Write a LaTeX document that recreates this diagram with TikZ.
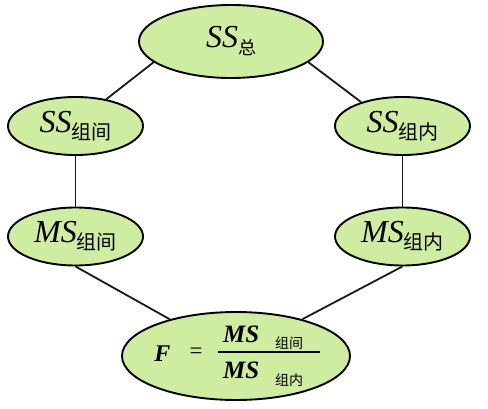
\documentclass[tikz,border=0pt]{standalone}
\usepackage{fontspec}
\setmainfont{Liberation Serif}
\newfontfamily\cjkf{Noto Sans CJK SC}
\usetikzlibrary{shapes.geometric}
\definecolor{nodegreen}{RGB}{206,237,160}
\newcommand{\bigit}[1]{{\fontsize{32}{32}\selectfont\itshape #1}}
\newcommand{\sidesub}[1]{\raisebox{-7pt}{\cjkf\fontsize{20}{20}\selectfont #1}}
\newcommand{\fbig}{\fontsize{25}{25}\selectfont\bfseries\itshape}
\newcommand{\fsubf}{\cjkf\fontsize{14}{14}\selectfont}
\begin{document}
\begin{tikzpicture}[x=1pt,y=-1pt,
  oval/.style={ellipse,draw=black,line width=1.9pt,fill=nodegreen,inner sep=0pt},
  side/.style={oval,minimum width=135pt,minimum height=58pt},
  conn/.style={line width=1.8pt,draw=black!90},
  ftext/.style={inner sep=0pt}]
\fill[white] (0,0) rectangle (488,409);
\useasboundingbox (0,0) rectangle (488,409);
\node[oval,minimum width=184pt,minimum height=73pt] (tot) at (231,41.5)
  {\bigit{SS}\raisebox{-7pt}{\cjkf\fontsize{18}{18}\selectfont 总}};
\node[side] (ssb) at (75.5,126) {\bigit{SS}\sidesub{组间}};
\node[side] (ssw) at (402.5,126) {\bigit{SS}\sidesub{组内}};
\node[side] (msb) at (75.5,236.5) {\bigit{MS}\sidesub{组间}};
\node[side] (msw) at (402.5,236.5) {\bigit{MS}\sidesub{组内}};
\node[oval,minimum width=228pt,minimum height=88pt] (fo) at (236,356) {};
% formula
\node[ftext,anchor=base,font=\fontsize{24}{24}\selectfont\bfseries\itshape] (fF) at (162.5,361) {F};
\node[ftext,anchor=base,font=\fontsize{23}{23}\selectfont] (feq) at (196,359) {=};
\node[ftext,anchor=base west,font=\fbig] (fnum) at (223,342) {MS};
\node[ftext,anchor=base west,font=\fsubf] (fnums) at (275,348.5) {组间};
\draw[line width=1.4pt] (218,352) -- (320,352);
\node[ftext,anchor=base west,font=\fbig] (fden) at (223,378) {MS};
\node[ftext,anchor=base west,font=\fsubf] (fdens) at (275,385.5) {组内};
% connectors
\draw[conn] (tot.195) -- (ssb.41);
\draw[conn] (tot.345) -- (ssw.150);
\draw[conn] (ssb.south) -- (msb.north);
\draw[conn] (ssw.south) -- (msw.north);
\draw[conn] (msb.south) -- (fo.151);
\draw[conn] (msw.south) -- (fo.29);
\end{tikzpicture}
\end{document}
